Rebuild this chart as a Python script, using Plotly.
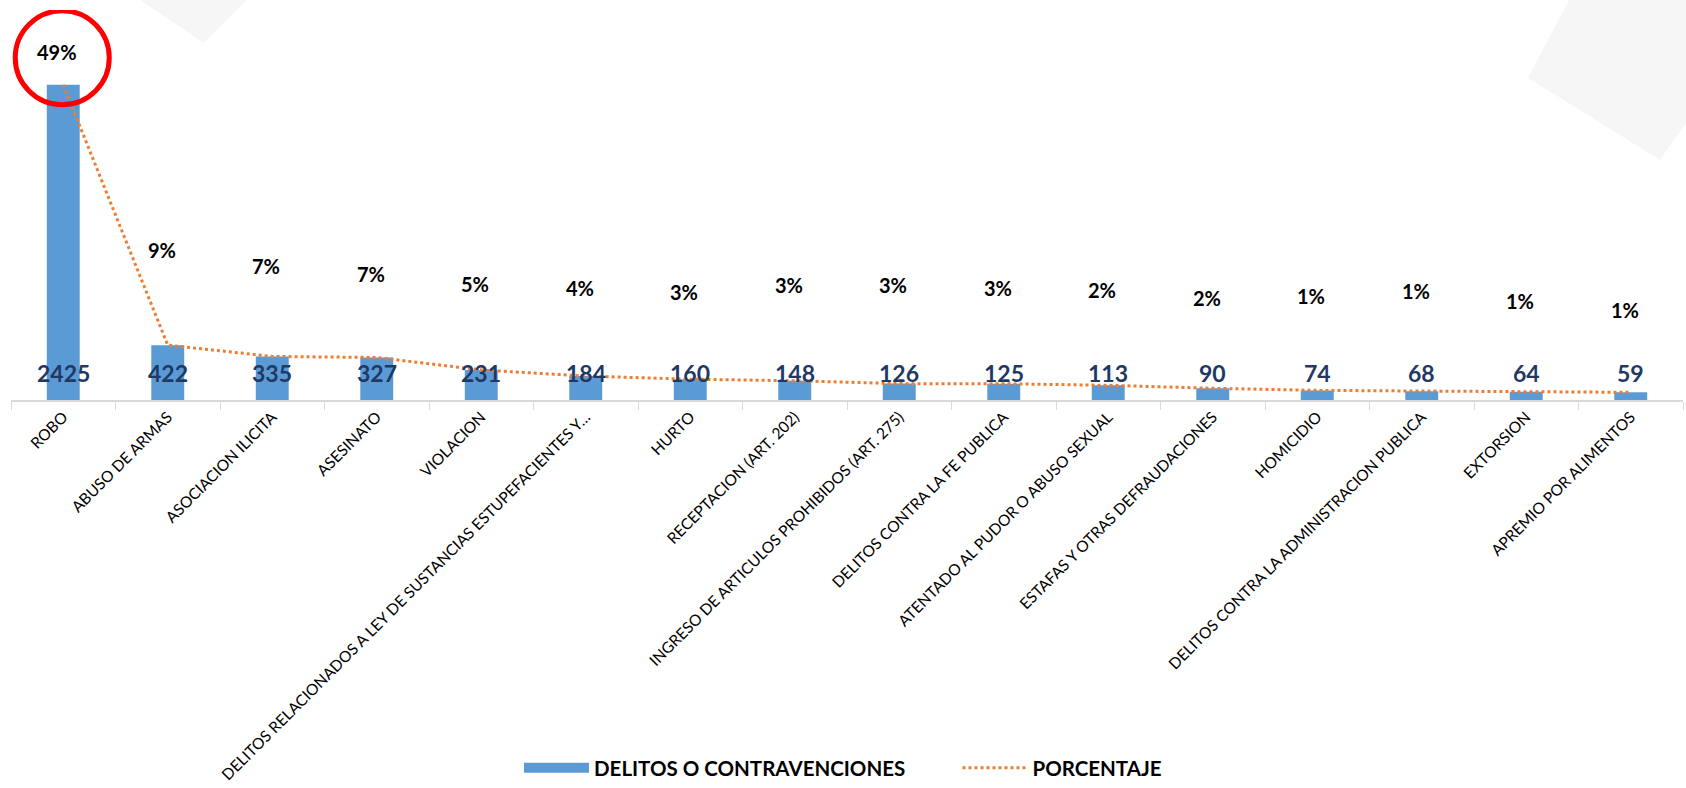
import plotly.graph_objects as go

categories = [
    "ROBO", "ABUSO DE ARMAS", "ASOCIACION ILICITA", "ASESINATO", "VIOLACION",
    "DELITOS RELACIONADOS A LEY DE SUSTANCIAS ESTUPEFACIENTES Y…",
    "HURTO", "RECEPTACION (ART. 202)", "INGRESO DE ARTICULOS PROHIBIDOS (ART. 275)",
    "DELITOS CONTRA LA FE PUBLICA", "ATENTADO AL PUDOR O ABUSO SEXUAL",
    "ESTAFAS Y OTRAS DEFRAUDACIONES", "HOMICIDIO",
    "DELITOS CONTRA LA ADMINISTRACION PUBLICA", "EXTORSION", "APREMIO POR ALIMENTOS",
]
delitos = [2425, 422, 335, 327, 231, 184, 160, 148, 126, 125, 113, 90, 74, 68, 64, 59]
total = sum(delitos)
porcentaje = [v / total for v in delitos]
pct_labels = ["49%", "9%", "7%", "7%", "5%", "4%", "3%", "3%", "3%", "3%", "2%", "2%", "1%", "1%", "1%", "1%"]

# styling: vertical pixel position (from top of figure) of each percentage label
pct_label_top_px = [52, 250, 266, 274, 284, 288, 292, 285, 285, 288, 290, 298, 296, 291, 301, 310]

W, H = 1686, 788
M_L, M_R, M_T, M_B = 11, 3, 10, 388
plot_h = H - M_T - M_B
plot_w = W - M_L - M_R
YMAX = 3000

FONT = "Lato"
BAR_COLOR = "#5B9BD5"
LINE_COLOR = "#ED7D31"
BG_SHAPE = "#F6F6F6"
PAD = "&nbsp;" * 9

fig = go.Figure()
fig.add_trace(go.Bar(
    x=categories, y=delitos, name="DELITOS O CONTRAVENCIONES",
    marker=dict(color=BAR_COLOR, line=dict(width=0)),
    yaxis="y", showlegend=False, legendgroup="bars",
))
# legend entry drawn as a wide swatch for the bar series
fig.add_trace(go.Scatter(
    x=[None], y=[None], name="<b>DELITOS O CONTRAVENCIONES</b>" + PAD, mode="lines",
    line=dict(color=BAR_COLOR, width=14), legendgroup="bars", hoverinfo="skip",
))
fig.add_trace(go.Scatter(
    x=categories, y=porcentaje, name="<b>PORCENTAJE</b>", mode="lines",
    line=dict(color=LINE_COLOR, width=3, dash="dot"),
    yaxis="y2",
))

annotations = []
for c, v in zip(categories, delitos):
    annotations.append(dict(
        x=c, y=0, xref="x", yref="y", text=f"<b>{v}</b>", showarrow=False,
        yanchor="middle", yshift=27,
        font=dict(family=FONT, size=23, color="#1F3864"),
    ))
for c, t, py in zip(categories, pct_labels, pct_label_top_px):
    annotations.append(dict(
        x=c, y=(H - M_B - py) / plot_h, xref="x", yref="paper", text=f"<b>{t}</b>",
        showarrow=False, yanchor="middle", xshift=-6,
        font=dict(family=FONT, size=20, color="#000000"),
    ))


def px2paper(x, y):
    return (x - M_L) / plot_w, (H - M_B - y) / plot_h


def poly(points):
    return "M " + " L ".join(
        f"{px2paper(x, y)[0]:.4f},{px2paper(x, y)[1]:.4f}" for x, y in points) + " Z"


shapes = [
    dict(type="path", xref="paper", yref="paper", layer="below",
         path=poly([(140, 0), (247, 0), (204, 43)]),
         fillcolor=BG_SHAPE, line=dict(width=0)),
    dict(type="path", xref="paper", yref="paper", layer="below",
         path=poly([(1569, 0), (1528, 78), (1660, 160), (1686, 123), (1686, 0)]),
         fillcolor=BG_SHAPE, line=dict(width=0)),
    # red highlight circle around the first percentage label
    dict(type="circle", xref="x", yref="y2", xsizemode="pixel", ysizemode="pixel",
         xanchor=categories[0], yanchor=porcentaje[0],
         x0=-48, x1=46, y0=-20, y1=74,
         line=dict(color="#FF0000", width=5)),
]

fig.update_layout(
    width=W, height=H,
    margin=dict(l=M_L, r=M_R, t=M_T, b=M_B, autoexpand=False),
    paper_bgcolor="white", plot_bgcolor="rgba(0,0,0,0)",
    bargap=0.685,
    showlegend=True,
    legend=dict(orientation="h", xref="container", yref="container",
                x=0.5, xanchor="center", y=0.0, yanchor="bottom",
                font=dict(family=FONT, size=20.5, color="#000000"),
                itemwidth=65, traceorder="normal"),
    xaxis=dict(
        type="category", tickangle=-45, showline=True, linecolor="#D9D9D9", linewidth=2,
        ticks="outside", tickson="boundaries", tickcolor="#D9D9D9", ticklen=8, tickwidth=1,
        tickfont=dict(family=FONT, size=15.5, color="#000000"), automargin=False,
        showgrid=False, zeroline=False,
    ),
    yaxis=dict(range=[0, YMAX], visible=False, showgrid=False),
    yaxis2=dict(range=[0, YMAX / total], overlaying="y", visible=False, showgrid=False),
    annotations=annotations,
    shapes=shapes,
)

fig.write_html("out.html", post_script="document.body.style.margin='0';",
               config={"displayModeBar": False})
